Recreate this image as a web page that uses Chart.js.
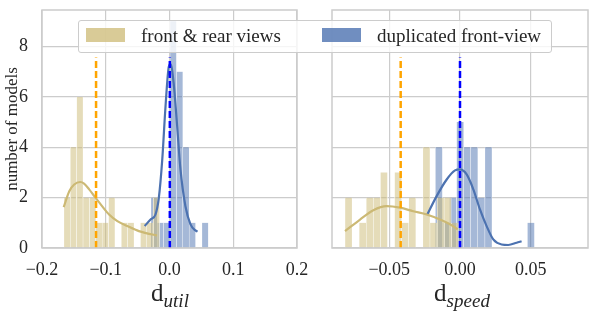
<!DOCTYPE html>
<html>
<head>
<meta charset="utf-8">
<script src="https://cdn.jsdelivr.net/npm/chart.js@4.4.0/dist/chart.umd.min.js"></script>
<style>
  body { margin: 0; width: 598px; height: 313px; background: #fff; position: relative; overflow: hidden;
         font-family: 'Liberation Serif', serif; color: #262626; }
  canvas { position: absolute; top: 0; }
  #cUtil { left: 0; }
  #cSpeed { left: 300px; }
  .legend { position: absolute; left: 78px; top: 20px; width: 472px; height: 31px;
            border: 1px solid #cccccc; border-radius: 3px; background: rgba(255, 255, 255, 0.8); }
  .patch { position: absolute; top: 7px; width: 39px; height: 14px; }
  .lbl { position: absolute; top: 5px; font-size: 19px; line-height: 19px; white-space: nowrap; }
  .xt { position: absolute; top: 280px; font-size: 25px; line-height: 25px; transform: translateX(-50%); white-space: nowrap; }
  .xt sub { font-size: 19px; font-style: italic; vertical-align: -6px; }
</style>
</head>
<body>
<canvas id="cUtil" width="320" height="313"></canvas>
<canvas id="cSpeed" width="298" height="313"></canvas>

<div class="legend">
  <div class="patch" style="left:7px; background:rgba(204,185,116,0.75)"></div>
  <div class="lbl" style="left:62px">front &amp; rear views</div>
  <div class="patch" style="left:243px; background:rgba(76,114,176,0.8)"></div>
  <div class="lbl" style="left:298px">duplicated front-view</div>
</div>
<div class="xt" style="left:170px">d<sub>util</sub></div>
<div class="xt" style="left:462px">d<sub>speed</sub></div>

<script>
// shared y axis
var countTicks = [0, 2, 4, 6, 8];
var countTickLabels = ['0', '2', '4', '6', '8'];
var yMax = 9.45;

// left panel: d_util
var utilTicks = [-0.2, -0.1, 0.0, 0.1, 0.2];
var utilTickLabels = ['\u22120.2', '\u22120.1', '0.0', '0.1', '0.2'];
var utilRearBins = [-0.1606, -0.1506, -0.1406, -0.1306, -0.1206, -0.1106, -0.1006, -0.0906,
                    -0.0806, -0.0706, -0.0606, -0.0506, -0.0406, -0.0306, -0.0206];
var utilRearCounts = [2, 4, 6, 2, 2, 1, 1, 2, 0, 1, 1, 0, 1, 1, 2];
var utilDupBins = [-0.0341, -0.0241, -0.0141, -0.0041, 0.0059, 0.0159, 0.0259, 0.0359, 0.0459];
var utilDupCounts = [2, 1, 1, 9, 7, 4, 1, 0, 1];
var utilRearKdeX = [-0.166, -0.157, -0.1495, -0.140, -0.134, -0.126, -0.118, -0.110, -0.0948,
                    -0.0818, -0.066, -0.048, -0.0219, -0.0195];
var utilRearKdeY = [1.62, 2.26, 2.52, 2.62, 2.56, 2.33, 2.06, 1.8, 1.33, 1.07, 0.87, 0.67, 0.51, 0.5];
var utilDupKdeX = [-0.039, -0.0297, -0.022, -0.0167, -0.0114, -0.0063, -0.0011, 0.0016, 0.0067,
                   0.012, 0.0172, 0.025, 0.0328, 0.0406, 0.044];
var utilDupKdeY = [0.87, 1.13, 1.33, 2.0, 3.5, 5.6, 7.2, 7.3, 6.5, 4.84, 3.12, 1.66, 0.95, 0.7, 0.65];
var utilMeans = [-0.1152, 0.0005];

// right panel: d_speed
var speedTicks = [-0.05, 0.0, 0.05];
var speedTickLabels = ['\u22120.05', '0.00', '0.05'];
var speedRearBins = [-0.0787, -0.0737, -0.0687, -0.0637, -0.0587, -0.0537, -0.0487, -0.0437,
                     -0.0387, -0.0337, -0.0287, -0.0237, -0.0187, -0.0137, -0.0087, -0.0037];
var speedRearCounts = [2, 0, 1, 2, 2, 3, 0, 3, 1, 2, 0, 4, 1, 2, 2, 1];
var speedDupBins = [-0.0199, -0.0149, -0.0099, -0.0049, 0.0001, 0.0051, 0.0101, 0.0151,
                    0.0201, 0.0251, 0.0301, 0.0351, 0.0401, 0.0451];
var speedDupCounts = [4, 1, 2, 5, 4, 4, 2, 4, 0, 0, 0, 0, 0, 1];
var speedRearKdeX = [-0.0812, -0.0706, -0.0612, -0.0518, -0.0424, -0.033, -0.0235, -0.0141, -0.0071, -0.0016];
var speedRearKdeY = [0.67, 1.13, 1.5, 1.66, 1.6, 1.46, 1.33, 1.13, 0.94, 0.74];
var speedDupKdeX = [-0.0231, -0.0165, -0.0094, -0.0035, 0.0, 0.0047, 0.0094, 0.0141, 0.0188,
                    0.0235, 0.0294, 0.0341, 0.04, 0.0435];
var speedDupKdeY = [1.33, 2.06, 2.72, 3.08, 3.12, 2.92, 2.33, 1.53, 0.87, 0.34, 0.14, 0.12, 0.21, 0.27];
var speedMeans = [-0.0419, 0.0];

var tan = '#ccb974';
var blue = '#4c72b0';
var serif = 'Liberation Serif';

function pairs(xs, ys) {
    return xs.map(function(x, i) { return {x: x, y: ys[i]}; });
}

// draws the light grey box round the plot area
var framePlugin = {
    id: 'frame',
    afterDraw: function(chart) {
        var a = chart.chartArea, ctx = chart.ctx;
        ctx.save();
        ctx.strokeStyle = '#cccccc';
        ctx.lineWidth = 1.5;
        ctx.strokeRect(a.left, a.top, a.right - a.left, a.bottom - a.top);
        ctx.restore();
    }
};

function makePanel(id, p) {
    var setTicks = function(list) {
        return function(s) { s.ticks = list.map(function(v) { return {value: v}; }); };
    };
    var hiddenX = function() {
        return {type: 'linear', display: false, min: p.xMin, max: p.xMax, offset: false,
                afterBuildTicks: setTicks(p.ticks)};
    };
    var vline = function(v) { return [{x: v, y: 0}, {x: v, y: yMax * 0.8}]; };
    var barStyle = {barPercentage: 1, categoryPercentage: 1, borderColor: 'rgba(255,255,255,0.9)',
                    borderWidth: {left: 0.5, right: 0.5, top: 0, bottom: 0}, borderSkipped: false};

    var chart = new Chart(document.getElementById(id), {
        type: 'bar',
        data: {
            datasets: [
                {type: 'line', data: vline(p.means[0]), borderColor: '#ffa500', borderWidth: 2.5,
                 borderDash: [7, 3], pointRadius: 0, xAxisID: 'x', order: 0},
                {type: 'line', data: vline(p.means[1]), borderColor: '#0000ff', borderWidth: 2.5,
                 borderDash: [7, 3], pointRadius: 0, xAxisID: 'x', order: 0},
                {type: 'line', data: pairs(p.rearKdeX, p.rearKdeY), borderColor: tan, borderWidth: 2.2,
                 pointRadius: 0, cubicInterpolationMode: 'monotone', xAxisID: 'x', order: 1},
                {type: 'line', data: pairs(p.dupKdeX, p.dupKdeY), borderColor: blue, borderWidth: 2.2,
                 pointRadius: 0, cubicInterpolationMode: 'monotone', xAxisID: 'x', order: 1},
                Object.assign({type: 'bar', data: pairs(p.rearBins, p.rearCounts),
                 backgroundColor: 'rgba(204,185,116,0.5)', xAxisID: 'xRear', order: 2}, barStyle),
                Object.assign({type: 'bar', data: pairs(p.dupBins, p.dupCounts),
                 backgroundColor: 'rgba(76,114,176,0.5)', xAxisID: 'xDup', order: 3}, barStyle)
            ]
        },
        options: {
            responsive: false,
            animation: false,
            layout: {padding: {top: 10, right: p.padRight, left: 0, bottom: 0}},
            plugins: {legend: {display: false}, tooltip: {enabled: false}},
            scales: {
                x: {
                    type: 'linear', min: p.xMin, max: p.xMax, offset: false,
                    afterBuildTicks: setTicks(p.ticks),
                    afterFit: function(s) { s.height = 65; s.paddingLeft = 0; s.paddingRight = 0; },
                    grid: {color: '#cccccc', lineWidth: 1.2, drawTicks: false, offset: false},
                    border: {display: false},
                    ticks: {padding: 11, color: '#262626', maxRotation: 0, autoSkip: false,
                            font: {family: serif, size: 18},
                            callback: function(v, i) { return p.tickLabels[i]; }}
                },
                xRear: hiddenX(),
                xDup: hiddenX(),
                y: {
                    min: 0, max: yMax,
                    afterBuildTicks: setTicks(countTicks),
                    afterFit: function(s) { s.width = p.yWidth; s.paddingTop = 0; s.paddingBottom = 0; },
                    grid: {color: '#cccccc', lineWidth: 1.2, drawTicks: false},
                    border: {display: false},
                    ticks: {display: p.showY, padding: 14, color: '#262626',
                            font: {family: serif, size: 18},
                            callback: function(v, i) { return countTickLabels[i]; }},
                    title: {display: p.showY, text: 'number of models', color: '#262626',
                            font: {family: serif, size: 17}, padding: {top: 2, bottom: 0}}
                }
            }
        },
        plugins: [framePlugin]
    });

    // make each bar exactly one bin wide, measured on the x scale
    [4, 5].forEach(function(k) {
        var ds = chart.data.datasets[k];
        var sc = chart.scales.x;
        ds.barThickness = Math.abs(sc.getPixelForValue(ds.data[1].x) - sc.getPixelForValue(ds.data[0].x));
    });
    chart.update();
}

makePanel('cUtil', {
    xMin: -0.2, xMax: 0.2, ticks: utilTicks, tickLabels: utilTickLabels,
    rearBins: utilRearBins, rearCounts: utilRearCounts, dupBins: utilDupBins, dupCounts: utilDupCounts,
    rearKdeX: utilRearKdeX, rearKdeY: utilRearKdeY, dupKdeX: utilDupKdeX, dupKdeY: utilDupKdeY,
    means: utilMeans, yWidth: 42, padRight: 23, showY: true
});

makePanel('cSpeed', {
    xMin: -0.0904, xMax: 0.0904, ticks: speedTicks, tickLabels: speedTickLabels,
    rearBins: speedRearBins, rearCounts: speedRearCounts, dupBins: speedDupBins, dupCounts: speedDupCounts,
    rearKdeX: speedRearKdeX, rearKdeY: speedRearKdeY, dupKdeX: speedDupKdeX, dupKdeY: speedDupKdeY,
    means: speedMeans, yWidth: 32, padRight: 10, showY: false
});
</script>
</body>
</html>
